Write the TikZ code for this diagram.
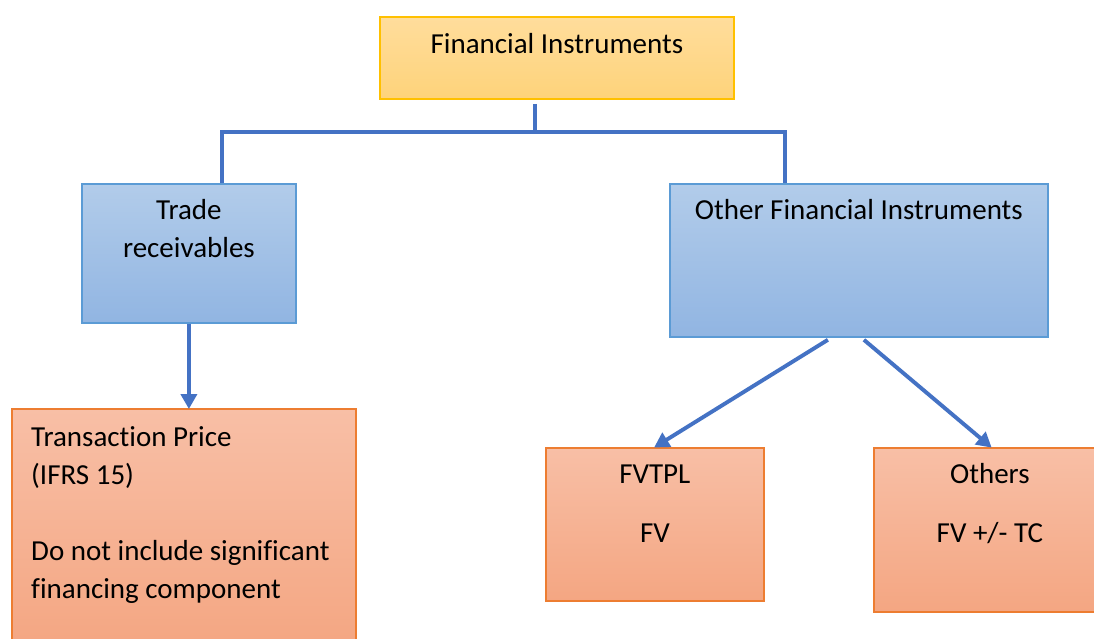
\documentclass[tikz,border=0pt]{standalone}
\usepackage{fontspec}
\setmainfont{Carlito}[Ligatures=NoCommon]
\usetikzlibrary{arrows.meta,calc}
\definecolor{conn}{HTML}{4472C4}
\definecolor{goldline}{HTML}{FFC000}
\definecolor{goldtop}{HTML}{FFDD9C}
\definecolor{goldbot}{HTML}{FED37A}
\definecolor{blueline}{HTML}{5B9BD5}
\definecolor{bluetop}{HTML}{B2CCEA}
\definecolor{bluebot}{HTML}{91B5E2}
\definecolor{orangeline}{HTML}{ED7D31}
\definecolor{orangetop}{HTML}{F8BFA6}
\definecolor{orangebot}{HTML}{F4A682}
\tikzset{
  box/.style={rectangle, inner sep=0pt, line width=1.8pt, anchor=north west},
  goldbox/.style={box, draw=goldline, top color=goldtop, bottom color=goldbot},
  bluebox/.style={box, draw=blueline, top color=bluetop, bottom color=bluebot},
  orangebox/.style={box, draw=orangeline, top color=orangetop, bottom color=orangebot},
  txt/.style={font=\fontsize{29}{38}\selectfont, inner sep=0pt, anchor=base},
  link/.style={draw=conn, line width=3.9pt, line join=miter},
  arrowlink/.style={link, -{Triangle[length=15pt,width=16pt]}, shorten >=-1pt}
}
\begin{document}
\begin{tikzpicture}[x=1pt,y=-1pt]
\clip (0,0) rectangle (1094,638);
\fill[white] (0,0) rectangle (1094,638);

% boxes
\node[goldbox, minimum width=354pt, minimum height=82pt] (fi) at (379,16) {};
\node[bluebox, minimum width=214pt, minimum height=139pt] (trade) at (81,183) {};
\node[bluebox, minimum width=378pt, minimum height=153pt] (other) at (669,183) {};
\node[orangebox, minimum width=344pt, minimum height=240pt] (trans) at (11,408) {};
\node[orangebox, minimum width=218pt, minimum height=153pt] (fvtpl) at (545,447) {};
\node[orangebox, minimum width=240pt, minimum height=164pt] (others) at (873,447) {};

% labels (multi-line labels are placed by the baseline of their last line)
\node[txt] (fitxt) at ($(fi.north)+(0,37)$) {Financial Instruments};
\node[txt, align=center] (tradetxt) at ($(trade.north)+(0,74)$) {Trade\\receivables};
\node[txt] (othertxt) at ($(other.north)+(0,36)$) {Other Financial Instruments};
\node[txt, align=left, anchor=base west] (transtxt) at ($(trans.north west)+(20,190)$)
  {Transaction Price\\(IFRS 15)\\[38pt]Do not include significant\\financing component};
\node[txt] (fvtpltxt) at ($(fvtpl.north)+(0,36)$) {FVTPL};
\node[txt] (fvtxt) at ($(fvtpl.north)+(0,95)$) {FV};
\node[txt] (otherstxt) at ($(others.north)+(-4,36)$) {Others};
\node[txt] (fvtctxt) at ($(others.north)+(-4,95)$) {FV +/- TC};

% tree connectors
\coordinate (busL) at (222,132);
\coordinate (busR) at (785,132);
\draw[link] ([xshift=-22pt,yshift=-4pt]fi.south) -- ([xshift=-22pt]fi.south |- busL);
\draw[link] (trade.north -| busL) -- (busL) -- (busR) -- (other.north -| busR);

% arrows
\draw[arrowlink] (trade.south) -- (trade.south |- trans.north);
\draw[arrowlink] ([xshift=-31pt,yshift=-2pt]other.south) -- (fvtpl.north);
\draw[arrowlink] ([xshift=5pt,yshift=-2pt]other.south) -- ([xshift=-3pt]others.north);
\end{tikzpicture}
\end{document}
